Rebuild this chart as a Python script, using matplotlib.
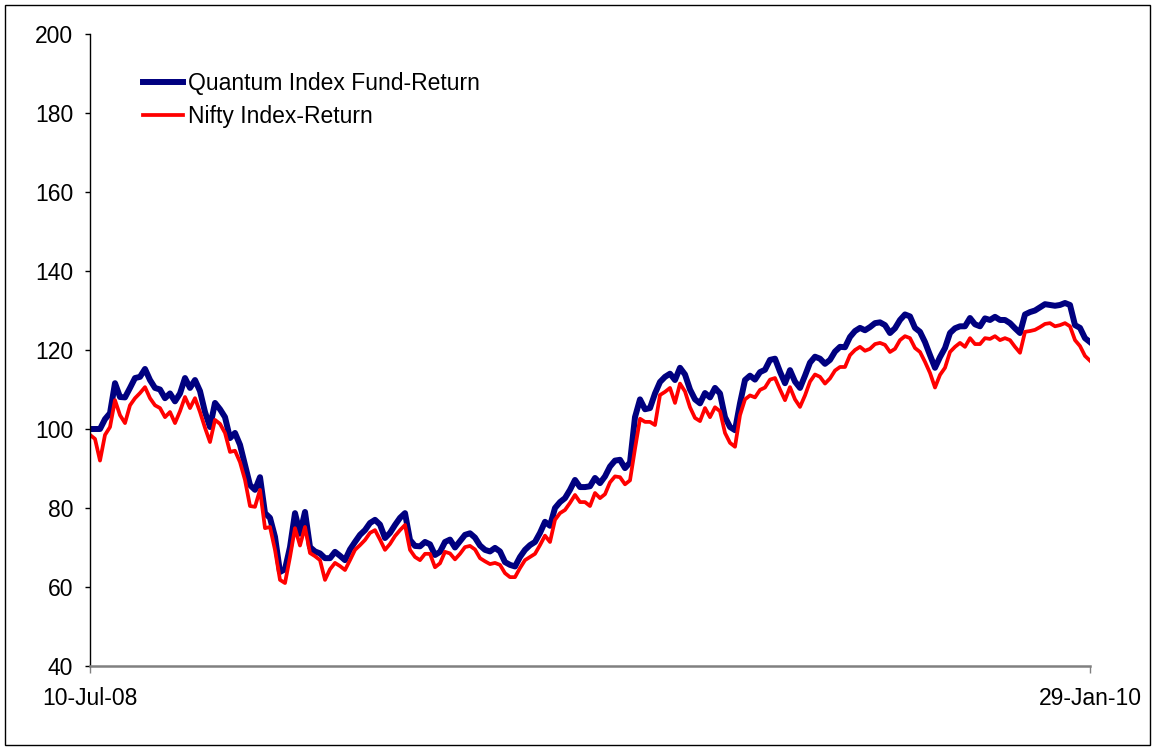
import matplotlib.pyplot as plt
import matplotlib.dates as mdates
import numpy as np
import pandas as pd
from matplotlib.patches import Rectangle

# values, evenly spaced from 10-Jul-08 to 29-Jan-10
quantum = [100.0, 100.0, 100.0, 102.5, 104.0, 111.6, 108.1, 108.0, 110.4, 112.9,
           113.2, 115.2, 112.4, 110.4, 110.0, 107.8, 109.0, 107.0, 109.0, 112.9,
           110.4, 112.4, 109.6, 104.3, 100.5, 106.6, 105.0, 103.0, 97.7, 99.0,
           96.0, 90.9, 85.8, 84.6, 87.8, 78.7, 77.5, 72.7, 63.8, 64.5,
           70.1, 78.7, 73.5, 79.0, 70.1, 69.0, 68.5, 67.3, 67.3, 68.9,
           67.9, 66.8, 69.5, 71.4, 73.2, 74.4, 76.2, 77.0, 75.8, 72.4,
           73.7, 75.7, 77.5, 78.7, 71.9, 70.4, 70.3, 71.4, 70.8, 68.1,
           68.9, 71.4, 72.0, 70.0, 71.6, 73.2, 73.6, 72.5, 70.5, 69.4,
           69.0, 69.9, 69.0, 66.3, 65.6, 65.2, 67.6, 69.4, 70.6, 71.4,
           73.7, 76.5, 75.5, 80.0, 81.5, 82.5, 84.6, 87.1, 85.3, 85.3,
           85.5, 87.6, 86.3, 88.0, 90.5, 92.0, 92.2, 90.1, 91.5, 103.0,
           107.5, 105.0, 105.3, 109.0, 111.9, 113.2, 114.0, 112.4, 115.5, 113.8,
           110.0, 107.5, 106.5, 109.1, 108.0, 110.4, 109.0, 103.0, 100.5, 99.7,
           106.5, 112.4, 113.5, 112.5, 114.4, 115.0, 117.5, 117.8, 114.5, 111.6,
           114.9, 112.0, 110.4, 113.5, 116.8, 118.3, 117.8, 116.5, 117.5, 119.6,
           120.8, 120.7, 123.3, 124.8, 125.6, 125.0, 125.8, 126.8, 127.0, 126.3,
           124.3, 125.5, 127.6, 129.0, 128.5, 125.6, 124.6, 122.0, 118.7, 115.5,
           118.2, 120.5, 124.3, 125.5, 126.0, 126.0, 128.1, 126.5, 126.0, 128.0,
           127.6, 128.4, 127.6, 127.6, 126.8, 125.5, 124.3, 129.0, 129.6, 130.0,
           130.8, 131.6, 131.4, 131.2, 131.4, 131.9, 131.4, 126.3, 125.6, 123.0,
           122.0]

nifty = [98.5, 97.5, 92.0, 98.5, 100.5, 107.3, 103.5, 101.5, 106.0, 107.8,
         109.1, 110.6, 107.8, 106.0, 105.3, 103.0, 104.3, 101.5, 104.5, 108.1,
         105.3, 107.8, 104.3, 100.3, 96.7, 102.3, 101.3, 99.0, 94.2, 94.5,
         91.6, 87.1, 80.5, 80.3, 84.6, 74.9, 75.2, 69.4, 61.8, 61.0,
         67.6, 74.9, 70.5, 75.2, 68.6, 67.8, 66.8, 61.8, 64.5, 66.1,
         65.3, 64.3, 66.8, 69.4, 70.6, 71.9, 73.7, 74.4, 72.0, 69.4,
         70.9, 72.9, 74.4, 75.7, 69.4, 67.6, 66.8, 68.4, 68.4, 65.0,
         66.0, 68.9, 68.5, 67.0, 68.4, 70.1, 70.4, 69.5, 67.3, 66.5,
         65.8, 66.1, 65.6, 63.5, 62.5, 62.5, 64.8, 66.8, 67.6, 68.4,
         70.6, 73.0, 71.4, 77.0, 78.7, 79.5, 81.3, 83.3, 81.5, 81.5,
         80.5, 83.8, 82.5, 83.5, 86.5, 88.0, 87.8, 86.0, 87.0, 95.0,
         102.6, 101.8, 101.8, 101.0, 108.6, 109.4, 110.4, 106.6, 111.5, 109.5,
         105.5, 102.8, 102.0, 105.3, 103.0, 105.5, 104.5, 99.0, 96.5, 95.5,
         103.5, 107.5, 108.5, 108.0, 109.9, 110.5, 112.5, 112.9, 110.0, 107.3,
         110.6, 107.5, 105.6, 108.5, 112.0, 113.8, 113.2, 111.5, 112.8, 114.8,
         115.7, 115.7, 118.7, 120.0, 120.8, 119.8, 120.3, 121.5, 121.8, 121.3,
         119.5, 120.3, 122.5, 123.5, 123.0, 120.5, 119.5, 117.0, 114.2, 110.5,
         113.7, 115.5, 119.5, 120.8, 121.8, 120.8, 123.0, 121.5, 121.5, 123.0,
         122.8, 123.5, 122.5, 123.0, 122.5, 120.8, 119.3, 124.6, 124.8, 125.1,
         125.8, 126.6, 126.8, 126.0, 126.3, 126.8, 126.0, 122.5, 121.0, 118.5,
         117.3]

start_date = "2008-07-10"
end_date = "2010-01-29"
y_ticks = [40, 60, 80, 100, 120, 140, 160, 180, 200]
labels = ["Quantum Index Fund-Return", "Nifty Index-Return"]

dates = pd.date_range(start_date, end_date, periods=len(quantum))

plt.rcParams['font.family'] = ['Liberation Sans', 'DejaVu Sans']
fsize = 16.5

fig = plt.figure(figsize=(11.53, 7.47), dpi=100)
ax = fig.add_axes([90/1153, 1 - 666/747, 1000/1153, 632/747])

ax.plot(dates, quantum, color='#000080', lw=4.3, label=labels[0],
        solid_joinstyle='round')
ax.plot(dates, nifty, color='#FF0000', lw=2.7, label=labels[1],
        solid_joinstyle='round')

ax.set_xlim(dates[0], dates[-1])
ax.set_ylim(40, 200)
ax.set_yticks(y_ticks)
ax.set_xticks([dates[0], dates[-1]])
ax.xaxis.set_major_formatter(mdates.DateFormatter('%d-%b-%y'))

for side in ['top', 'right']:
    ax.spines[side].set_visible(False)
ax.spines['left'].set_color('black')
ax.spines['left'].set_linewidth(1.0)
ax.spines['bottom'].set_color('#808080')
ax.spines['bottom'].set_linewidth(1.8)

ax.tick_params(axis='y', direction='out', length=3.6, width=1, color='black',
               labelsize=fsize, pad=8.6)
ax.tick_params(axis='x', direction='out', length=5, width=1, color='#808080',
               labelsize=fsize, pad=10)

ax.legend(loc='upper left', bbox_to_anchor=(0.053, 0.9405), frameon=False,
          fontsize=fsize, handlelength=1.75, handletextpad=0.22,
          labelspacing=0.45, borderpad=0, borderaxespad=0)

# frame round the whole chart
fig.patches.append(Rectangle((5/1153, 2/747), 1145/1153, 740/747,
                             transform=fig.transFigure, fill=False,
                             edgecolor='black', lw=1))

fig.savefig("out.png", dpi=100)
